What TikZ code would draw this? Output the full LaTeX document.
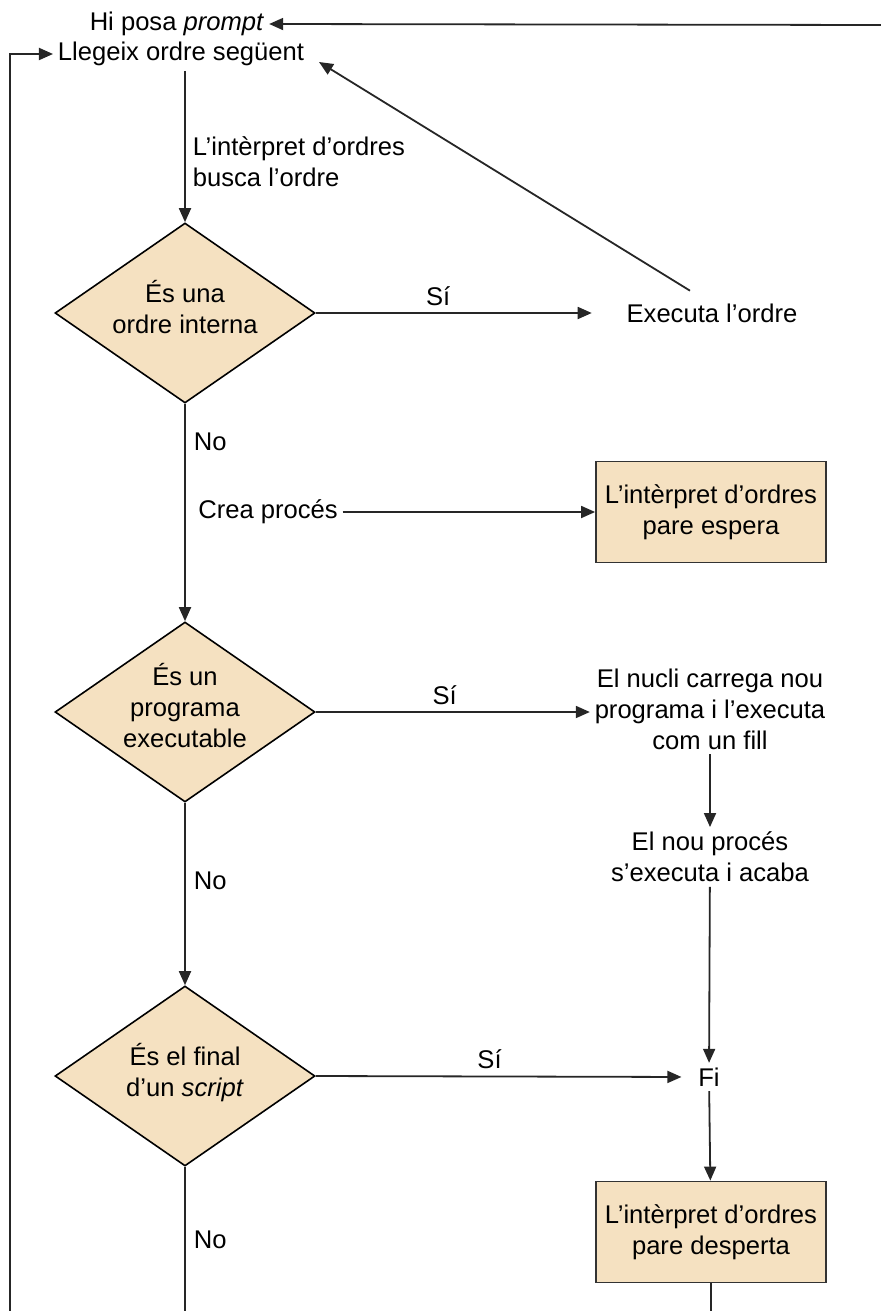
\documentclass[tikz,border=0pt]{standalone}
\usepackage{fontspec}
\setmainfont{Liberation Sans}
\usetikzlibrary{shapes.geometric,arrows.meta,positioning}
\definecolor{boxfill}{RGB}{245,225,193}

\def\mainx{185}
\def\sidex{711}

\begin{document}
\begin{tikzpicture}[x=0.5pt,y=-0.5pt,->,>={Triangle[length=7pt,width=6pt]},
  line width=0.9pt,draw=black!85,font=\fontsize{12.8}{15.5}\selectfont]
\tikzstyle{txt}=[inner sep=2pt,align=center]
\tikzstyle{lbl}=[inner sep=0pt,anchor=west,align=left]
\tikzstyle{decision}=[diamond,draw=black,line width=0.8pt,fill=boxfill,
  minimum width=130pt,minimum height=90pt,inner sep=0pt]
\tikzstyle{dtext}=[inner sep=0pt,align=center,yshift=3pt]
\tikzstyle{waitbox}=[rectangle,draw=black!80,fill=boxfill,minimum width=115pt,
  minimum height=50.5pt,align=center]

\useasboundingbox (0,0) rectangle (881,1311);

% Top: prompt and reading the next order
\node[txt] (prompt) at (177,24) {Hi posa \textit{prompt}};
\node[txt] (llegeix) at (181,54) {Llegeix ordre següent};
\coordinate (topright) at (881,25);
\coordinate (loopfoot) at (10,1311);

% Decisions on the main column
\node[decision] (D1) at (\mainx,313) {};
\node[dtext] (Q1) at (D1) {És una\\ordre interna};
\node[decision] (D2) at (\mainx,712) {};
\node[dtext] (Q2) at (D2) {És un\\programa\\executable};
\node[decision] (D3) at (\mainx,1076) {};
\node[dtext,yshift=-1.5pt] (Q3) at (D3) {És el final\\d’un \textit{script}};
\coordinate (mainfoot) at (\mainx,1311);

% Right column
\node[txt] (exec) at (712,313) {Executa l’ordre};
\node[txt] (crea) at (268,512) {Crea procés};
\node[waitbox] (B1) at (\sidex,512) {L’intèrpret d’ordres\\pare espera};
\node[txt] (nucli) at (710,709) {El nucli carrega nou\\programa i l’executa\\com un fill};
\node[txt] (nou) at (710,857) {El nou procés\\s’executa i acaba};
\node[txt] (fi) at (709,1077) {Fi};
\node[waitbox] (B2) at (\sidex,1232) {L’intèrpret d’ordres\\pare desperta};
\coordinate (sidefoot) at (\sidex,1311);

% Labels on the main column
\node[lbl] (busca) at (192,162) {L’intèrpret d’ordres\\busca l’ordre};
\node[lbl] (no1) at (193,442) {No};
\node[lbl] (no2) at (193,881) {No};
\node[lbl] (no3) at (193,1240) {No};

% Connect the nodes
\draw (topright) -- (prompt.east);
\draw (loopfoot) |- (llegeix.west);
\draw (llegeix.south -| D1.north) -- (D1.north);
\draw[shorten >=15pt] (D1.east) -- node[above,pos=0.40] (si1) {Sí} (exec.west);
\draw ([xshift=-11pt,yshift=4pt]exec.north) -- ([xshift=5pt,yshift=-4pt]llegeix.east);
\draw (D1.south) -- (D2.north);
\draw (crea) -- (B1);
\draw (D2.east) -- node[above,pos=0.47] (si2) {Sí} (D2.east -| nucli.west);
\draw (nucli) -- (nou);
\draw (nou) -- (fi);
\draw (D2.south) -- (D3.north);
\draw[shorten >=6pt] (D3.east) -- node[above,pos=0.46] (si3) {Sí} (fi.west);
\draw (fi) -- (B2);
\draw[-] (B2) -- (sidefoot);
\draw[-] (D3.south) -- (mainfoot);
\end{tikzpicture}
\end{document}
